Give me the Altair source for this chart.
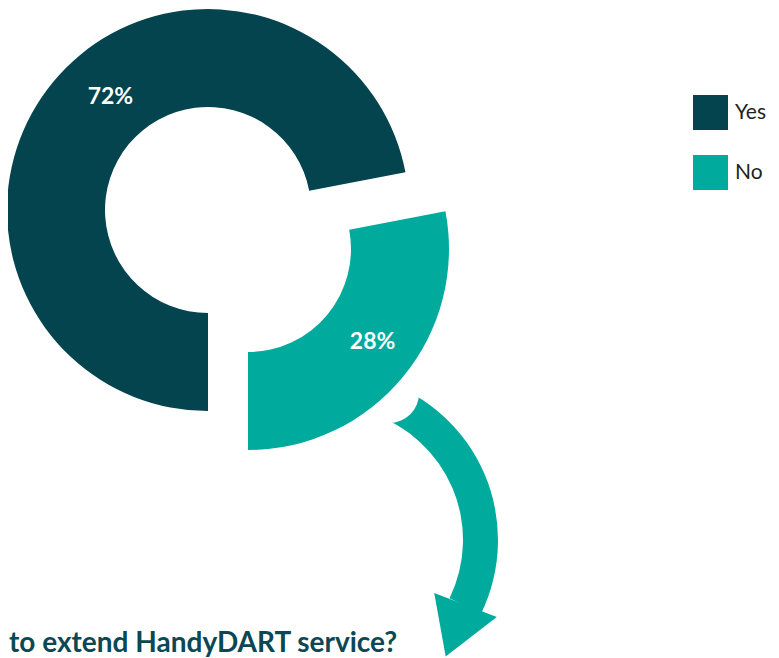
import math
import altair as alt
import pandas as pd

# ---- data ----
categories = ["Yes", "No"]
values = [72, 28]
labels = ["72%", "28%"]
colors = ["#03444f", "#00aa9d"]
question = ["to extend HandyDART service?"]

starts = []
acc = 0
for v in values:
    starts.append(acc)
    acc += v
ends = [s + v for s, v in zip(starts, values)]
df = pd.DataFrame({
    "category": categories,
    "value": values,
    "label": labels,
    "start": starts,
    "end": ends,
    "mid": [(s + e) / 2 for s, e in zip(starts, ends)],
})

PI = math.pi
theta_scale = alt.Scale(domain=[0, 100], range=[PI, 3 * PI])
color_scale = alt.Scale(domain=categories, range=colors)

# layout (chart coordinates; page = chart + 8)
CX, CY = 200, 202          # donut centre
EX, EY = 40, 39            # explode offset of the "No" slice
R_OUT, R_IN = 201, 103
TEAL = colors[1]
FONT = "Lato"

base = alt.Chart(df)

legend = alt.Legend(
    orient="none", legendX=685, legendY=87, title=None,
    symbolType="square", symbolSize=1225, symbolStrokeWidth=0,
    labelFontSize=21, labelFont=FONT, labelColor="#231f20",
    rowPadding=25, labelOffset=7, padding=0,
)


def slice_layer(cat, cx, cy):
    return base.transform_filter(alt.datum.category == cat).mark_arc(
        radius=R_OUT, radius2=R_IN
    ).encode(
        theta=alt.Theta("start:Q", scale=theta_scale),
        theta2=alt.Theta2("end:Q"),
        color=alt.Color("category:N", scale=color_scale, legend=legend),
        x=alt.value(cx), y=alt.value(cy),
    )


def label_layer(cat, cx, cy, dx, dy):
    return base.transform_filter(alt.datum.category == cat).mark_text(
        radius=150, font=FONT, fontWeight="bold", fontSize=23,
        color="white", dx=dx, dy=dy, align="center", baseline="middle",
    ).encode(
        theta=alt.Theta("mid:Q", scale=theta_scale),
        text="label:N",
        x=alt.value(cx), y=alt.value(cy),
    )


# ---- curved arrow (decoration) ----
AX, AY = 322, 532
arrow_df = pd.DataFrame({"k": ["arrow"]})
shaft = alt.Chart(arrow_df).mark_arc(
    radius=168, radius2=133, theta=math.radians(18), theta2=math.radians(116),
    color=TEAL,
).encode(x=alt.value(AX), y=alt.value(AY))

notch = alt.Chart(arrow_df).mark_point(
    shape="circle", filled=True, opacity=1, color="white",
    size=math.pi * 34 ** 2, strokeWidth=0,
).encode(x=alt.value(381), y=alt.value(385))

head = alt.Chart(arrow_df).mark_point(
    shape="M -1 0 L 1 0 L 0 1.65 Z", filled=True, opacity=1, color=TEAL,
    size=67 ** 2, angle=21, strokeWidth=0,
).encode(x=alt.value(457.5), y=alt.value(597))

q_text = alt.Chart(pd.DataFrame({"q": question})).mark_text(
    font=FONT, fontWeight="bold", fontSize=28, color="#0b4853",
    align="left", baseline="alphabetic",
).encode(text="q:N", x=alt.value(1), y=alt.value(644))

chart = alt.layer(
    shaft, notch, head,
    slice_layer("Yes", CX, CY),
    slice_layer("No", CX + EX, CY + EY),
    label_layer("Yes", CX, CY, 18, -17),
    label_layer("No", CX + EX, CY + EY, 9, -3),
    q_text,
).properties(
    width=763, height=650, padding=0, autosize=alt.AutoSizeParams(type="none"),
).configure_view(stroke=None)

chart.save("out.html", embed_options={"renderer": "svg", "actions": False})
